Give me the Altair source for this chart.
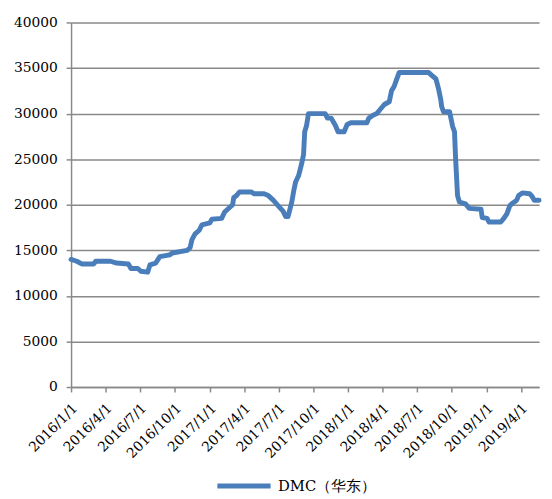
import altair as alt
import pandas as pd

series_name = "DMC（华东）"

dates = [
    "2016-01-01", "2016-01-16", "2016-01-29", "2016-03-01", "2016-03-06",
    "2016-04-14", "2016-04-30", "2016-05-31", "2016-06-07", "2016-06-25",
    "2016-07-03", "2016-07-21", "2016-07-27", "2016-08-11", "2016-08-22",
    "2016-09-17", "2016-09-24", "2016-11-02", "2016-11-10", "2016-11-15",
    "2016-11-23", "2016-12-04", "2016-12-11", "2017-01-01", "2017-01-06",
    "2017-02-01", "2017-02-09", "2017-02-22", "2017-03-02", "2017-03-05",
    "2017-03-12", "2017-03-20", "2017-04-20", "2017-04-28", "2017-05-24",
    "2017-06-04", "2017-06-17", "2017-07-02", "2017-07-13", "2017-07-20",
    "2017-07-26", "2017-07-31", "2017-08-05", "2017-08-10", "2017-08-15",
    "2017-08-23", "2017-08-31", "2017-09-05", "2017-09-08", "2017-09-13",
    "2017-09-18", "2017-11-01", "2017-11-07", "2017-11-17", "2017-11-28",
    "2017-12-05", "2017-12-21", "2017-12-29", "2018-01-08", "2018-02-19",
    "2018-02-24", "2018-03-06", "2018-03-17", "2018-03-27", "2018-04-06",
    "2018-04-19", "2018-04-25", "2018-05-02", "2018-05-08", "2018-05-15",
    "2018-08-01", "2018-08-09", "2018-08-20", "2018-08-27", "2018-09-02",
    "2018-09-04", "2018-09-09", "2018-09-25", "2018-10-03", "2018-10-08",
    "2018-10-11", "2018-10-16", "2018-10-21", "2018-11-06", "2018-11-16",
    "2018-12-17", "2018-12-20", "2019-01-02", "2019-01-07", "2019-02-07",
    "2019-02-15", "2019-02-23", "2019-03-03", "2019-03-11", "2019-03-21",
    "2019-03-26", "2019-04-05", "2019-04-24", "2019-05-01", "2019-05-06",
    "2019-05-19",
]

values = [
    14000, 13800, 13500, 13500, 13800,
    13800, 13600, 13500, 13000, 13000,
    12700, 12600, 13400, 13600, 14300,
    14500, 14700, 15000, 15300, 16200,
    16800, 17200, 17800, 18000, 18400,
    18500, 19200, 19700, 20000, 20800,
    21000, 21400, 21400, 21200, 21200,
    21000, 20500, 19800, 19300, 18700,
    18700, 19500, 20300, 21500, 22500,
    23200, 24500, 25500, 28000, 28700,
    30000, 30000, 29500, 29500, 28700,
    28000, 28000, 28800, 29000, 29000,
    29500, 29800, 30000, 30500, 31000,
    31300, 32500, 33000, 33700, 34500,
    34500, 34200, 33800, 32700, 31500,
    30800, 30200, 30200, 28600, 28000,
    25000, 21000, 20300, 20100, 19600,
    19500, 18600, 18500, 18100, 18100,
    18500, 19000, 19900, 20200, 20500,
    21000, 21300, 21200, 20900, 20500,
    20500,
]

x_ticks = [
    (2016, 1), (2016, 4), (2016, 7), (2016, 10),
    (2017, 1), (2017, 4), (2017, 7), (2017, 10),
    (2018, 1), (2018, 4), (2018, 7), (2018, 10),
    (2019, 1), (2019, 4),
]
y_ticks = [0, 5000, 10000, 15000, 20000, 25000, 30000, 35000, 40000]

df = pd.DataFrame({"date": dates, "price": values, "series": series_name})

FONT = "DejaVu Serif"
GRID = "#898989"
BLUE = "#4A7EBB"


def dt(y, m, d=1):
    return alt.DateTime(year=y, month=m, date=d, utc=True)


chart = (
    alt.Chart(df)
    .mark_line(strokeWidth=5, strokeJoin="round", strokeCap="round")
    .encode(
        x=alt.X(
            "date:T",
            scale=alt.Scale(type="utc", domain=[dt(2016, 1, 1), dt(2019, 5, 19)]),
            axis=alt.Axis(
                title=None,
                values=[dt(y, m) for y, m in x_ticks],
                labelExpr="utcFormat(datum.value, '%Y/%-m/%-d')",
                labelAngle=315,
                labelAlign="right",
                labelBaseline="middle",
                labelOverlap=False,
                labelBound=False,
                labelFlush=False,
                labelOffset=4,
                grid=False,
                labelPadding=14,
            ),
        ),
        y=alt.Y(
            "price:Q",
            scale=alt.Scale(domain=[0, 40000], nice=False),
            axis=alt.Axis(title=None, values=y_ticks, format="d", labelPadding=9),
        ),
        color=alt.Color(
            "series:N",
            scale=alt.Scale(range=[BLUE]),
            legend=alt.Legend(
                title=None,
                orient="none",
                legendX=146,
                legendY=441,
                symbolType="stroke",
                symbolSize=2916,
                symbolStrokeWidth=5,
                labelFont=FONT,
                labelFontSize=15,
                labelColor="#000000",
                labelOffset=5,
                padding=0,
            ),
        ),
    )
    .properties(
        width=475,
        height=370,
        autosize=alt.AutoSizeParams(type="none"),
        padding={"left": 64, "top": 11, "right": 5, "bottom": 110},
    )
    .configure_view(stroke=None)
    .configure_axis(
        labelFont=FONT,
        labelFontSize=14,
        labelColor="#000000",
        domainColor=GRID,
        domainWidth=1.5,
        tickColor=GRID,
        tickWidth=1.5,
        tickSize=5,
        gridColor=GRID,
        gridWidth=1.5,
    )
)

chart.save("out.html", embed_options={"renderer": "svg", "actions": False})
